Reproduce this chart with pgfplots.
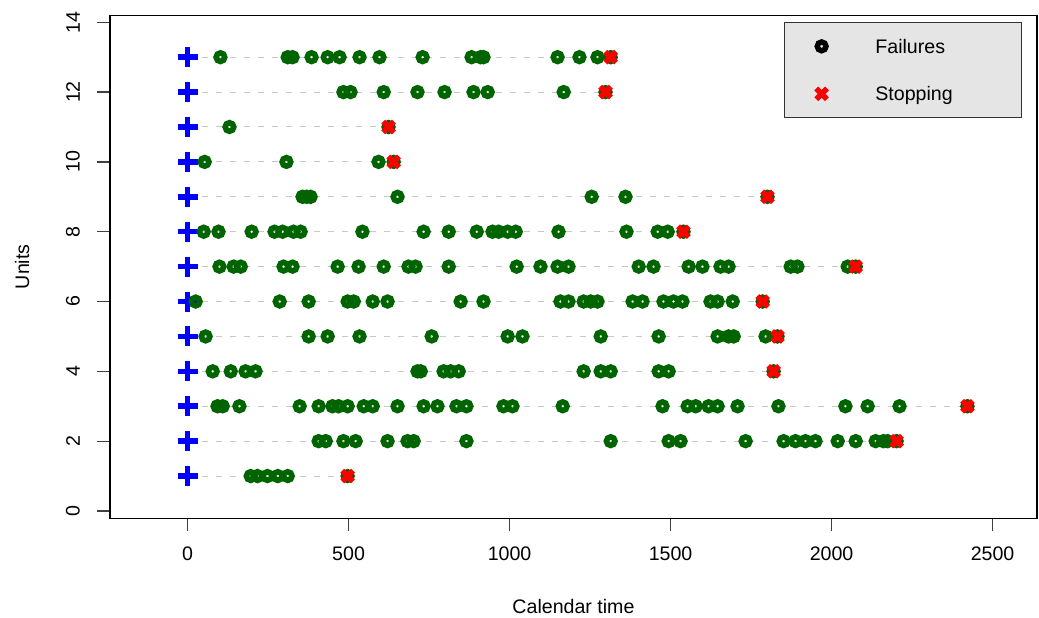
\documentclass[border=0pt]{standalone}
\usepackage{fontspec}
\setmainfont{Liberation Sans}
\usepackage{pgfplots}
\pgfplotsset{compat=1.18}
\usepackage{pgfplotstable}

\definecolor{rgreen}{RGB}{0,100,0}
\definecolor{rline}{RGB}{200,200,200}
\definecolor{legfill}{RGB}{229,229,229}
\newcommand{\rfont}{\fontsize{19.6}{23.5}\selectfont}

% stopping time of each unit
\pgfplotstableread{
t u
1314 13
1298 12
624 11
640 10
1801 9
1540 8
2075 7
1786 6
1832 5
1820 4
2422 3
2202 2
497 1
}\stops

\begin{document}
\begin{tikzpicture}
\useasboundingbox (0,0) rectangle (1039pt,618pt);
\begin{axis}[
  at={(110pt,99.7pt)}, anchor=south west,
  scale only axis, width=927pt, height=503pt,
  xmin=-241, xmax=2638, ymin=-0.21, ymax=14.2,
  xtick={0,500,...,2500}, ytick={0,2,...,14},
  tick pos=left, tick align=outside, major tick length=13pt,
  axis line style={line width=1.2pt},
  every tick/.style={black!75, line width=1.2pt},
  /pgf/number format/assume math mode=true,
  /pgf/number format/1000 sep={},
  tick label style={font=\rfont},
  yticklabel style={rotate=90, anchor=south, inner sep=0pt},
  xticklabel style={inner sep=0pt, anchor=north},
  yticklabel shift=17pt, xticklabel shift=15pt,
  xlabel={Calendar time}, ylabel={Units},
  label style={font=\rfont},
  xlabel style={at={(axis description cs:0.5,-0.1763)}, anchor=center},
  ylabel style={at={(axis description cs:-0.0949,0.5)}, anchor=center},
  legend image code/.code={\path (-34pt,0pt) (51pt,0pt); \draw[#1] plot coordinates {(0pt,0pt)};},
  legend style={at={(0.9838,0.9867)}, anchor=north east, fill=legfill,
    draw=black!80, line width=1.2pt, inner xsep=0pt, inner ysep=0pt,
    row sep=0pt, column sep=0pt, font=\rfont, legend cell align=left,
    nodes={inner sep=0pt, text height=30.8pt, text depth=16.7pt}},
]
% start of observation
\addplot[forget plot, only marks, mark=+, mark size=10pt, line width=5.5pt, blue]
  coordinates {(0,1) (0,2) (0,3) (0,4) (0,5) (0,6) (0,7) (0,8) (0,9) (0,10) (0,11) (0,12) (0,13)};
% failures
\addplot[forget plot, only marks, mark=o, mark size=4.3pt, line width=5.6pt, rgreen] coordinates {
 (102,13) (311,13) (326,13) (385,13) (435,13) (472,13) (534,13) (596,13) (730,13) (882,13) (910,13) (919,13) (1149,13) (1217,13) (1273,13)
 (484,12) (506,12) (609,12) (714,12) (798,12) (888,12) (932,12) (1168,12)
 (130,11)
 (53,10) (307,10) (593,10)
 (357,9) (370,9) (382,9) (652,9) (1255,9) (1360,9)
 (50,8) (96,8) (199,8) (270,8) (295,8) (329,8) (351,8) (543,8) (733,8) (811,8) (898,8) (947,8) (966,8) (994,8) (1019,8) (1152,8) (1363,8) (1460,8) (1491,8)
 (99,7) (143,7) (165,7) (298,7) (326,7) (466,7) (531,7) (609,7) (686,7) (708,7) (811,7) (1022,7) (1096,7) (1149,7) (1183,7) (1401,7) (1447,7) (1556,7) (1599,7) (1655,7) (1680,7) (1873,7) (1894,7) (2050,7)
 (25,6) (286,6) (376,6) (497,6) (516,6) (575,6) (621,6) (848,6) (919,6) (1158,6) (1183,6) (1230,6) (1252,6) (1273,6) (1382,6) (1413,6) (1478,6) (1509,6) (1537,6) (1624,6) (1646,6) (1693,6)
 (56,5) (376,5) (435,5) (534,5) (758,5) (994,5) (1040,5) (1283,5) (1463,5) (1646,5) (1680,5) (1696,5) (1795,5)
 (78,4) (134,4) (180,4) (211,4) (714,4) (724,4) (795,4) (817,4) (842,4) (1230,4) (1283,4) (1314,4) (1463,4) (1494,4)
 (93,3) (109,3) (161,3) (348,3) (407,3) (450,3) (469,3) (497,3) (547,3) (575,3) (652,3) (733,3) (776,3) (835,3) (866,3) (981,3) (1009,3) (1165,3) (1475,3) (1553,3) (1578,3) (1618,3) (1646,3) (1708,3) (1835,3) (2043,3) (2112,3) (2211,3)
 (407,2) (429,2) (484,2) (522,2) (621,2) (683,2) (702,2) (866,2) (1314,2) (1494,2) (1531,2) (1733,2) (1851,2) (1888,2) (1919,2) (1950,2) (2019,2) (2075,2) (2137,2) (2161,2) (2174,2)
 (196,1) (217,1) (248,1) (280,1) (311,1)
};
\addplot[forget plot, only marks, mark=o, mark size=4.3pt, line width=5.6pt, rgreen] table[x=t, y=u] {\stops};
% stopping times
\addplot[forget plot, only marks, mark=x, mark size=7.6pt, line width=5.5pt, red] table[x=t, y=u] {\stops};
% observation lines
\addplot[forget plot, xcomb, mark=none, rline, line width=1pt, dash pattern=on 6pt off 8pt] table[x=t, y=u] {\stops};

\addlegendimage{only marks, mark=o, mark size=4.4pt, line width=5.4pt, black}
\addlegendentry{\makebox[146pt][l]{Failures}}
\addlegendimage{only marks, mark=x, mark size=7.6pt, line width=5.5pt, red}
\addlegendentry{\makebox[146pt][l]{Stopping}}
\end{axis}
\end{tikzpicture}
\end{document}
